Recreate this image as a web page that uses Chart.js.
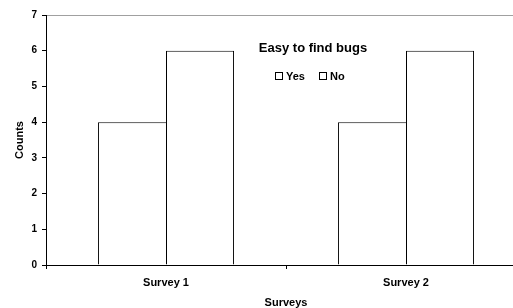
<!DOCTYPE html>
<html>
<head>
<meta charset="utf-8">
<script src="https://cdn.jsdelivr.net/npm/chart.js@4"></script>
<style>
  html, body { margin:0; padding:0; background:#fff; overflow:hidden; width:513px; height:308px; }
  canvas { display:block; }
</style>
</head>
<body>
<canvas id="bugs-chart" width="530" height="308"></canvas>
<script>
// data
const categories = ['Survey 1', 'Survey 2'];
const yesCounts  = [4, 4];
const noCounts   = [6, 6];
const yTicks     = [0, 1, 2, 3, 4, 5, 6, 7];
const legendTitle = 'Easy to find bugs';

const FONT = "'Liberation Sans', Arial, sans-serif";

// excel-ish legend floating inside the plot
const boxLegend = {
  id: 'boxLegend',
  afterDraw(chart) {
    const { ctx } = chart;
    ctx.save();
    ctx.fillStyle = '#000';
    ctx.textBaseline = 'middle';
    ctx.font = `bold 13px ${FONT}`;
    ctx.textAlign = 'center';
    ctx.fillText(legendTitle, 313, 48);

    ctx.font = `bold 11px ${FONT}`;
    ctx.textAlign = 'left';
    const items = [{ x: 275, ds: chart.data.datasets[0] }, { x: 319, ds: chart.data.datasets[1] }];
    items.forEach(it => {
      ctx.fillStyle = '#fff';
      ctx.fillRect(it.x + 0.5, 72.5, 7, 7);
      ctx.strokeStyle = '#000';
      ctx.lineWidth = 1;
      ctx.strokeRect(it.x + 0.5, 72.5, 7, 7);
      ctx.fillStyle = '#000';
      ctx.fillText(it.ds.label, it.x + 11, 76.5);
    });
    ctx.restore();
  }
};

new Chart(document.getElementById('bugs-chart'), {
  type: 'bar',
  data: {
    labels: categories,
    datasets: [
      // right edge left off: the "No" bar's left edge draws the shared line
      { label: 'Yes', data: yesCounts, backgroundColor: '#fff', borderColor: '#000',
        borderWidth: { top: 1, left: 1, right: 0, bottom: 0 } },
      { label: 'No',  data: noCounts,  backgroundColor: '#fff', borderColor: '#000', borderWidth: 1 }
    ]
  },
  options: {
    responsive: false,
    animation: false,
    devicePixelRatio: 1,
    layout: { padding: { left: 0, top: 15, right: 4, bottom: 0 } },
    datasets: { bar: { categoryPercentage: 0.567, barPercentage: 1 } },
    plugins: { legend: { display: false }, tooltip: { enabled: false } },
    scales: {
      x: {
        afterFit: s => { s.height = 43; },
        grid: { offset: true, drawOnChartArea: false, tickLength: 4, tickColor: '#000' },
        border: { color: '#000' },
        ticks: { color: '#000', padding: 7, font: { family: FONT, size: 11, weight: 'bold' } },
        title: { display: true, text: 'Surveys', color: '#000', padding: { top: 0, bottom: -2 },
                 font: { family: FONT, size: 11, weight: 'bold' } }
      },
      y: {
        min: 0, max: 7,
        afterFit: s => { s.width = 46; },
        afterBuildTicks: s => { s.ticks = yTicks.map(v => ({ value: v })); },
        grid: {
          color: c => c.tick && c.tick.value === 7 ? '#a0a0a0' : 'rgba(0,0,0,0)',
          tickColor: '#000', tickLength: 4
        },
        border: { color: '#000' },
        ticks: { color: '#000', padding: 5, font: { family: FONT, size: 10, weight: 'bold' } },
        title: { display: true, text: 'Counts', color: '#000', padding: { top: 13, bottom: 0 },
                 font: { family: FONT, size: 11, weight: 'bold' } }
      }
    }
  },
  plugins: [boxLegend]
});
</script>
</body>
</html>
